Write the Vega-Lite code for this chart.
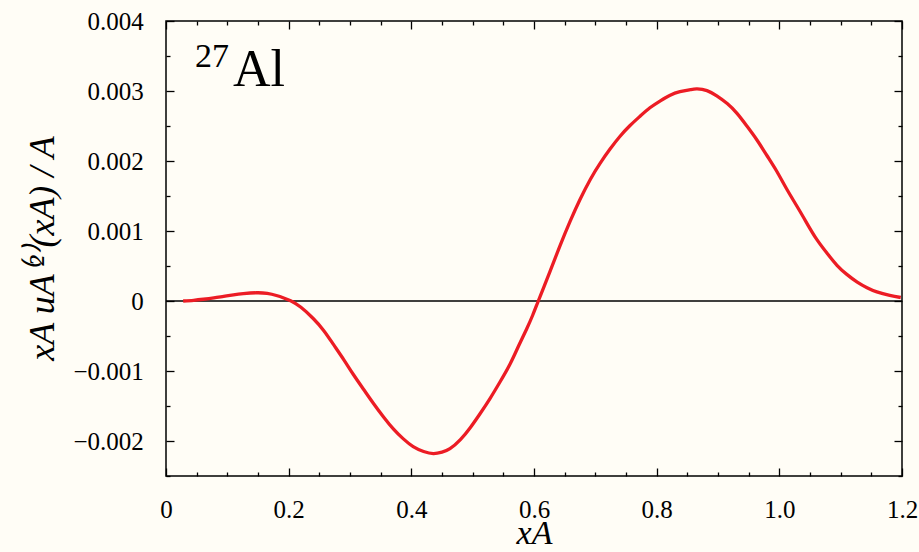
{
  "$schema": "https://vega.github.io/schema/vega-lite/v6.json",
  "width": 736,
  "height": 455,
  "autosize": {"type": "none"},
  "padding": {"left": 166, "top": 21, "right": 17, "bottom": 76},
  "background": "#fffdf6",
  "resolve": {"axis": {"x": "independent", "y": "independent"}},
  "layer": [
    {
      "data": {"values": [{"x0": 0, "x1": 1.2, "y": 0}]},
      "mark": {"type": "rule", "color": "#000000", "strokeWidth": 1.3},
      "encoding": {
        "x": {"field": "x0", "type": "quantitative", "scale": {"domain": [0, 1.2], "nice": false, "zero": false},
          "axis": {"orient": "top", "title": null, "labels": false,
            "values": [0,0.05,0.1,0.15,0.2,0.25,0.3,0.35,0.4,0.45,0.5,0.55,0.6,0.65,0.7,0.75,0.8,0.85,0.9,0.95,1.0,1.05,1.1,1.15,1.2],
            "tickSize": {"condition": {"test": "abs(datum.value*5 - round(datum.value*5)) < 1e-6", "value": -8}, "value": -4}}},
        "x2": {"field": "x1"},
        "y": {"field": "y", "type": "quantitative", "scale": {"domain": [-0.0025, 0.004], "nice": false, "zero": false},
          "axis": {"orient": "right", "title": null, "labels": false,
            "values": [-0.0025,-0.002,-0.0015,-0.001,-0.0005,0,0.0005,0.001,0.0015,0.002,0.0025,0.003,0.0035,0.004],
            "tickSize": {"condition": {"test": "abs(datum.value*1000 - round(datum.value*1000)) < 1e-6", "value": -8}, "value": -4}}}
      }
    },
    {
      "data": {"values": [
        {"x": 0.028, "y": 0.0},
        {"x": 0.045, "y": 0.00001},
        {"x": 0.061, "y": 0.000025},
        {"x": 0.078, "y": 0.000045},
        {"x": 0.094, "y": 0.000067},
        {"x": 0.11, "y": 0.000088},
        {"x": 0.126, "y": 0.000105},
        {"x": 0.148, "y": 0.000118},
        {"x": 0.165, "y": 0.000108},
        {"x": 0.18, "y": 0.000078},
        {"x": 0.193, "y": 0.00004},
        {"x": 0.204, "y": 0.0},
        {"x": 0.22, "y": -0.00009},
        {"x": 0.24, "y": -0.00025},
        {"x": 0.257, "y": -0.00042},
        {"x": 0.273, "y": -0.00062},
        {"x": 0.29, "y": -0.00084},
        {"x": 0.3055, "y": -0.00105},
        {"x": 0.322, "y": -0.00126},
        {"x": 0.338, "y": -0.00146},
        {"x": 0.355, "y": -0.00166},
        {"x": 0.371, "y": -0.00183},
        {"x": 0.387, "y": -0.00197},
        {"x": 0.403, "y": -0.00208},
        {"x": 0.42, "y": -0.00215},
        {"x": 0.436, "y": -0.00218},
        {"x": 0.45, "y": -0.00216},
        {"x": 0.463, "y": -0.00211},
        {"x": 0.48, "y": -0.00198},
        {"x": 0.496, "y": -0.00181},
        {"x": 0.512, "y": -0.00161},
        {"x": 0.5285, "y": -0.00139},
        {"x": 0.545, "y": -0.00115},
        {"x": 0.561, "y": -0.0009},
        {"x": 0.575, "y": -0.00064},
        {"x": 0.588, "y": -0.0004},
        {"x": 0.598, "y": -0.0002},
        {"x": 0.607, "y": 0.0},
        {"x": 0.617, "y": 0.00022},
        {"x": 0.626, "y": 0.00042},
        {"x": 0.642, "y": 0.00078},
        {"x": 0.659, "y": 0.00114},
        {"x": 0.675, "y": 0.00145},
        {"x": 0.692, "y": 0.00174},
        {"x": 0.708, "y": 0.00197},
        {"x": 0.724, "y": 0.00217},
        {"x": 0.74, "y": 0.00235},
        {"x": 0.757, "y": 0.00251},
        {"x": 0.773, "y": 0.00264},
        {"x": 0.789, "y": 0.00276},
        {"x": 0.806, "y": 0.00286},
        {"x": 0.822, "y": 0.00294},
        {"x": 0.838, "y": 0.00299},
        {"x": 0.855, "y": 0.00302},
        {"x": 0.866, "y": 0.00303},
        {"x": 0.882, "y": 0.003005},
        {"x": 0.898, "y": 0.00293},
        {"x": 0.915, "y": 0.00282},
        {"x": 0.931, "y": 0.00268},
        {"x": 0.947, "y": 0.0025},
        {"x": 0.9635, "y": 0.0023},
        {"x": 0.98, "y": 0.002075},
        {"x": 0.996, "y": 0.00185},
        {"x": 1.012, "y": 0.0016},
        {"x": 1.029, "y": 0.00135},
        {"x": 1.045, "y": 0.00111},
        {"x": 1.061, "y": 0.00088},
        {"x": 1.078, "y": 0.00068},
        {"x": 1.094, "y": 0.00051},
        {"x": 1.11, "y": 0.00038},
        {"x": 1.127, "y": 0.00027},
        {"x": 1.143, "y": 0.00019},
        {"x": 1.159, "y": 0.00013},
        {"x": 1.18, "y": 0.00008},
        {"x": 1.198, "y": 0.00005}
      ]},
      "mark": {"type": "line", "color": "#ec1c24", "strokeWidth": 3.3, "interpolate": "natural"},
      "encoding": {
        "x": {"field": "x", "type": "quantitative", "scale": {"domain": [0, 1.2], "nice": false, "zero": false},
          "axis": {"orient": "bottom", "title": "xA", "labelPadding": 29,
            "titleBaseline": "alphabetic", "titleY": 67, "titleFontSize": 34,
            "labelOverlap": false, "labelFlush": false, "labelBound": false,
            "values": [0,0.05,0.1,0.15,0.2,0.25,0.3,0.35,0.4,0.45,0.5,0.55,0.6,0.65,0.7,0.75,0.8,0.85,0.9,0.95,1.0,1.05,1.1,1.15,1.2],
            "labelExpr": "abs(datum.value*5 - round(datum.value*5)) < 1e-6 ? (datum.value == 0 ? '0' : format(datum.value, '.1f')) : ''",
            "tickSize": {"condition": {"test": "abs(datum.value*5 - round(datum.value*5)) < 1e-6", "value": -8}, "value": -4}}},
        "y": {"field": "y", "type": "quantitative", "scale": {"domain": [-0.0025, 0.004], "nice": false, "zero": false},
          "axis": {"orient": "left", "title": "xA uA⁽²⁾(xA) / A", "labelPadding": 30.7,
            "titleBaseline": "alphabetic", "titleX": -113, "titleY": 227, "titleAngle": -90, "titleAlign": "center",
            "labelOverlap": false, "labelFlush": false, "labelBound": false,
            "values": [-0.0025,-0.002,-0.0015,-0.001,-0.0005,0,0.0005,0.001,0.0015,0.002,0.0025,0.003,0.0035,0.004],
            "labelExpr": "abs(datum.value*1000 - round(datum.value*1000)) < 1e-6 ? (abs(datum.value) < 1e-9 ? '0' : replace(format(datum.value, '.3f'), '-', '−')) : ''",
            "tickSize": {"condition": {"test": "abs(datum.value*1000 - round(datum.value*1000)) < 1e-6", "value": -8}, "value": -4}}}
      }
    },
    {
      "data": {"values": [{"x": 0.0473, "y": 0.00335, "label": "27"}]},
      "mark": {"type": "text", "align": "left", "baseline": "alphabetic", "fontSize": 34, "font": "Liberation Serif", "color": "#000000"},
      "encoding": {
        "x": {"field": "x", "type": "quantitative", "axis": null},
        "y": {"field": "y", "type": "quantitative", "axis": null},
        "text": {"field": "label"}
      }
    },
    {
      "data": {"values": [{"x": 0.1093, "y": 0.003067, "label": "Al"}]},
      "mark": {"type": "text", "align": "left", "baseline": "alphabetic", "fontSize": 52, "font": "Liberation Serif", "color": "#000000"},
      "encoding": {
        "x": {"field": "x", "type": "quantitative", "axis": null},
        "y": {"field": "y", "type": "quantitative", "axis": null},
        "text": {"field": "label"}
      }
    }
  ],
  "config": {
    "view": {"stroke": "#000000", "strokeWidth": 1.5},
    "font": "Liberation Serif",
    "axis": {
      "domain": false, "grid": false, "tickColor": "#000000", "tickWidth": 1.3,
      "labelFont": "Liberation Serif", "labelFontSize": 25, "labelColor": "#000000",
      "titleFont": "Liberation Serif", "titleFontStyle": "italic", "titleFontWeight": "normal",
      "titleFontSize": 36, "titleColor": "#000000"
    }
  }
}
